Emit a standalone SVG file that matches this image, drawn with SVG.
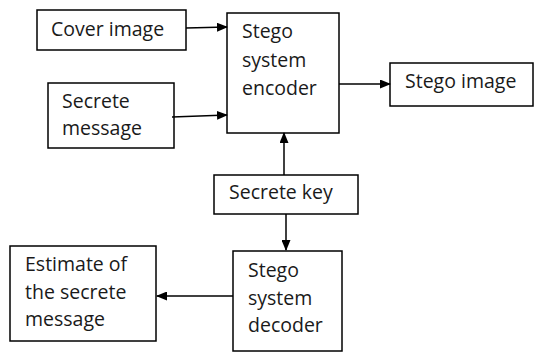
<svg xmlns="http://www.w3.org/2000/svg" width="537" height="352" viewBox="0 0 537 352">
<defs>
<style>
.box{fill:#fff;stroke:#000;stroke-width:1.5}
.t{font-family:"Open Sans","Liberation Sans",sans-serif;font-size:19.5px;fill:#1a1a1a}
.c{stroke:#000;stroke-width:1.5;fill:none}
</style>
<marker id="ah" markerWidth="11" markerHeight="9" refX="10" refY="4.5" orient="auto" markerUnits="userSpaceOnUse">
<path d="M0,0 L11,4.5 L0,9 Z" fill="#000"/>
</marker>
</defs>
<rect width="537" height="352" fill="#fff"/>
<g id="cover">
<rect class="box" x="37" y="10" width="149" height="40"/>
<text class="t" x="51" y="36">Cover image</text>
</g>
<g id="secret-message">
<rect class="box" x="48" y="83" width="126" height="65"/>
<text class="t" x="62" y="108">Secrete</text>
<text class="t" x="62" y="135">message</text>
</g>
<g id="encoder">
<rect class="box" x="227" y="13" width="112" height="120"/>
<text class="t" x="242" y="38">Stego</text>
<text class="t" x="242" y="67">system</text>
<text class="t" x="242" y="95">encoder</text>
</g>
<g id="stego-image">
<rect class="box" x="390" y="63" width="143" height="43"/>
<text class="t" x="405" y="88">Stego image</text>
</g>
<g id="key">
<rect class="box" x="214" y="175" width="144" height="39"/>
<text class="t" x="229" y="199">Secrete key</text>
</g>
<g id="decoder">
<rect class="box" x="233" y="251" width="109" height="100"/>
<text class="t" x="248" y="277">Stego</text>
<text class="t" x="248" y="305">system</text>
<text class="t" x="248" y="332">decoder</text>
</g>
<g id="estimate">
<rect class="box" x="10" y="246" width="146" height="95"/>
<text class="t" x="25" y="271">Estimate of</text>
<text class="t" x="25" y="299">the secrete</text>
<text class="t" x="25" y="326">message</text>
</g>
<g id="connectors">
<line class="c" x1="186" y1="28" x2="227" y2="27" marker-end="url(#ah)"/>
<line class="c" x1="172" y1="117" x2="227" y2="115" marker-end="url(#ah)"/>
<line class="c" x1="339" y1="84" x2="390" y2="84" marker-end="url(#ah)"/>
<line class="c" x1="284" y1="175" x2="284" y2="133" marker-end="url(#ah)"/>
<line class="c" x1="286" y1="214" x2="286" y2="250" marker-end="url(#ah)"/>
<line class="c" x1="233" y1="296" x2="157" y2="296" marker-end="url(#ah)"/>
</g>
</svg>
